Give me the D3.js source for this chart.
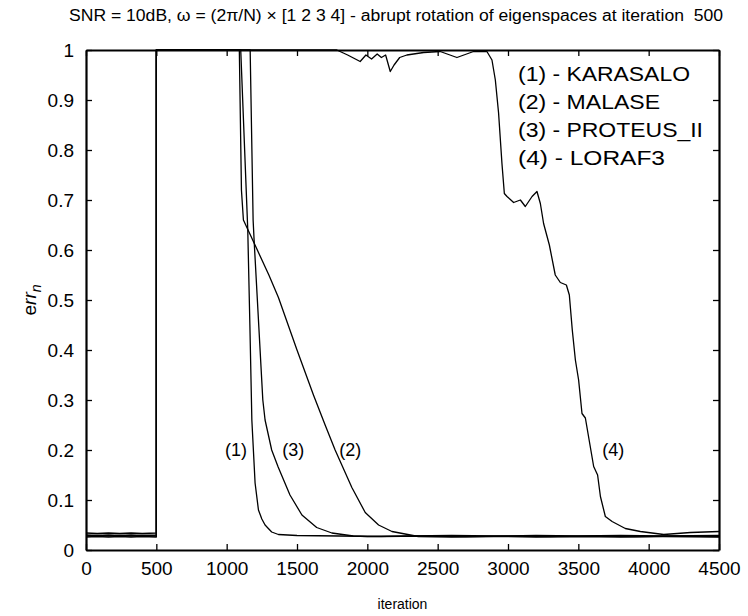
<!DOCTYPE html>
<html>
<head>
<meta charset="utf-8">
<script src="https://cdn.jsdelivr.net/npm/d3@7/dist/d3.min.js"></script>
<style>
  html, body { margin: 0; padding: 0; background: #fff; }
  svg text { font-family: "Liberation Sans", Arial, sans-serif; fill: #000; }
</style>
</head>
<body>
<div id="chart"></div>
<script>
// ---- data ----
const xTicks = [0, 500, 1000, 1500, 2000, 2500, 3000, 3500, 4000, 4500];
const yTicks = [0, 0.1, 0.2, 0.3, 0.4, 0.5, 0.6, 0.7, 0.8, 0.9, 1];
const yTickLabels = ["0", "0.1", "0.2", "0.3", "0.4", "0.5", "0.6", "0.7", "0.8", "0.9", "1"];

const karasaloIter = [0, 80, 160, 240, 320, 400, 500, 500, 1100, 1125, 1150, 1165, 1179, 1202, 1226, 1250, 1273, 1320, 1368, 1500, 1800, 2100, 2400, 2700, 3000, 3300, 3600, 3900, 4200, 4500];
const karasaloErr  = [0.028, 0.029, 0.028, 0.029, 0.028, 0.029, 0.028, 1, 1, 0.82, 0.64, 0.45, 0.26, 0.134, 0.08, 0.062, 0.05, 0.036, 0.031, 0.029, 0.028, 0.027, 0.028, 0.027, 0.028, 0.027, 0.028, 0.027, 0.028, 0.027];

const malaseIter = [0, 80, 160, 240, 320, 400, 500, 500, 1090, 1105, 1119, 1190, 1300, 1368, 1500, 1617, 1700, 1771, 1890, 1985, 2080, 2175, 2362, 2600, 2900, 3200, 3500, 3800, 4100, 4500];
const malaseErr  = [0.026, 0.027, 0.026, 0.027, 0.026, 0.027, 0.026, 1, 1, 0.72, 0.66, 0.617, 0.55, 0.505, 0.4, 0.31, 0.25, 0.2, 0.125, 0.075, 0.05, 0.037, 0.027, 0.026, 0.027, 0.026, 0.027, 0.026, 0.027, 0.026];

const proteusIter = [0, 80, 160, 240, 320, 400, 500, 500, 1167, 1188, 1195, 1257, 1273, 1320, 1366, 1450, 1535, 1640, 1748, 1900, 2000, 2300, 2600, 2900, 3200, 3500, 3800, 4100, 4500];
const proteusErr  = [0.030, 0.029, 0.030, 0.029, 0.030, 0.029, 0.030, 1, 1, 0.66, 0.62, 0.3, 0.26, 0.2, 0.166, 0.11, 0.07, 0.045, 0.034, 0.028, 0.027, 0.028, 0.029, 0.028, 0.029, 0.028, 0.029, 0.028, 0.029];

const lorafIter = [0, 80, 160, 240, 320, 400, 500, 500, 1500, 1783, 1860, 1949, 1990, 2030, 2070, 2100, 2130, 2163, 2190, 2230, 2281, 2400, 2518, 2637, 2755, 2850, 2886, 2910, 2933, 2957, 2974, 2993, 3040, 3088, 3123, 3171, 3206, 3230, 3253, 3294, 3336, 3372, 3415, 3436, 3457, 3479, 3502, 3526, 3550, 3609, 3637, 3657, 3692, 3740, 3834, 3941, 4107, 4297, 4500];
const lorafErr  = [0.034, 0.033, 0.034, 0.033, 0.034, 0.033, 0.034, 1, 1, 1, 0.99, 0.977, 0.99, 0.982, 0.992, 0.985, 0.99, 0.957, 0.97, 0.985, 0.99, 0.995, 0.997, 0.985, 0.997, 0.997, 0.98, 0.94, 0.874, 0.773, 0.713, 0.707, 0.695, 0.70, 0.687, 0.707, 0.717, 0.693, 0.653, 0.61, 0.55, 0.535, 0.53, 0.51, 0.44, 0.38, 0.34, 0.273, 0.264, 0.167, 0.15, 0.107, 0.067, 0.057, 0.043, 0.037, 0.031, 0.035, 0.037];

const seriesTags = ["(1)", "(3)", "(2)", "(4)"];
const tagIter = [1067, 1473, 1878, 3749];
const tagErr = 0.188;

const legendEntries = ["(1) - KARASALO", "(2) - MALASE", "(3) - PROTEUS_II", "(4) - LORAF3"];
const legendWidths = [172, 142, 185, 147];

// ---- chart ----
const W = 748, H = 616;
const margin = { top: 50, right: 29, bottom: 66, left: 86 };
const innerW = W - margin.left - margin.right;
const innerH = H - margin.top - margin.bottom;

const svg = d3.select("#chart").append("svg")
  .attr("width", W)
  .attr("height", H);

const g = svg.append("g").attr("transform", `translate(${margin.left},${margin.top})`);

const x = d3.scaleLinear().domain([0, 4500]).range([0, innerW]);
const y = d3.scaleLinear().domain([0, 1]).range([innerH, 0]);

const line = d3.line()
  .x(d => x(d[0]))
  .y(d => y(d[1]));

const allSeries = [
  d3.zip(karasaloIter, karasaloErr),
  d3.zip(malaseIter, malaseErr),
  d3.zip(proteusIter, proteusErr),
  d3.zip(lorafIter, lorafErr)
];

g.selectAll("path.curve")
  .data(allSeries)
  .enter()
  .append("path")
  .attr("class", "curve")
  .attr("fill", "none")
  .attr("stroke", "#000")
  .attr("stroke-width", 1.3)
  .attr("stroke-linejoin", "round")
  .attr("d", line);

// axes with inward ticks
function styleAxis(sel) {
  sel.select(".domain").attr("stroke-width", 2.2);
  sel.selectAll(".tick line").attr("stroke-width", 1.3);
  sel.selectAll("text")
    .style("font-size", "19px")
    .style("font-family", "'Liberation Sans', Arial, sans-serif")
    .attr("fill", "#000");
}

g.append("g")
  .attr("transform", `translate(0,${innerH})`)
  .call(d3.axisBottom(x).tickValues(xTicks).tickFormat(d3.format("d")).tickSizeInner(-6).tickSizeOuter(0).tickPadding(12))
  .call(styleAxis);

g.append("g")
  .call(d3.axisLeft(y).tickValues(yTicks).tickFormat((d, i) => yTickLabels[i]).tickSizeInner(-6).tickSizeOuter(0).tickPadding(12))
  .call(styleAxis);

g.append("g")
  .call(d3.axisTop(x).tickValues(xTicks).tickFormat("").tickSizeInner(-6).tickSizeOuter(0))
  .call(styleAxis);

g.append("g")
  .attr("transform", `translate(${innerW},0)`)
  .call(d3.axisRight(y).tickValues(yTicks).tickFormat("").tickSizeInner(-6).tickSizeOuter(0))
  .call(styleAxis);

// curve tags
g.selectAll("text.tag")
  .data(seriesTags)
  .enter()
  .append("text")
  .attr("class", "tag")
  .attr("x", (d, i) => x(tagIter[i]))
  .attr("y", y(tagErr))
  .attr("text-anchor", "middle")
  .style("font-size", "18px")
  .text(d => d);

// legend (text only)
g.selectAll("text.legend")
  .data(legendEntries)
  .enter()
  .append("text")
  .attr("class", "legend")
  .attr("x", 432)
  .attr("y", (d, i) => 31 + i * 28)
  .attr("textLength", (d, i) => legendWidths[i])
  .attr("lengthAdjust", "spacingAndGlyphs")
  .style("font-size", "20px")
  .text(d => d);

// title
svg.append("text")
  .attr("x", 396)
  .attr("y", 21)
  .attr("text-anchor", "middle")
  .attr("textLength", 654)
  .attr("lengthAdjust", "spacingAndGlyphs")
  .style("font-size", "16px")
  .style("white-space", "pre")
  .text("SNR = 10dB, \u03c9 = (2\u03c0/N) \u00d7 [1 2 3 4] - abrupt rotation of eigenspaces at iteration  500");

// x label
svg.append("text")
  .attr("x", margin.left + innerW / 2)
  .attr("y", 609)
  .attr("text-anchor", "middle")
  .style("font-size", "14px")
  .text("iteration");

// y label
const yl = svg.append("text")
  .attr("transform", `translate(36,${margin.top + innerH / 2}) rotate(-90)`)
  .attr("text-anchor", "middle")
  .style("font-size", "19px");
yl.append("tspan").text("e");
yl.append("tspan").style("font-style", "italic").text("rr");
yl.append("tspan").style("font-style", "italic").style("font-size", "14px").attr("dy", 5).text("n");
</script>
</body>
</html>
